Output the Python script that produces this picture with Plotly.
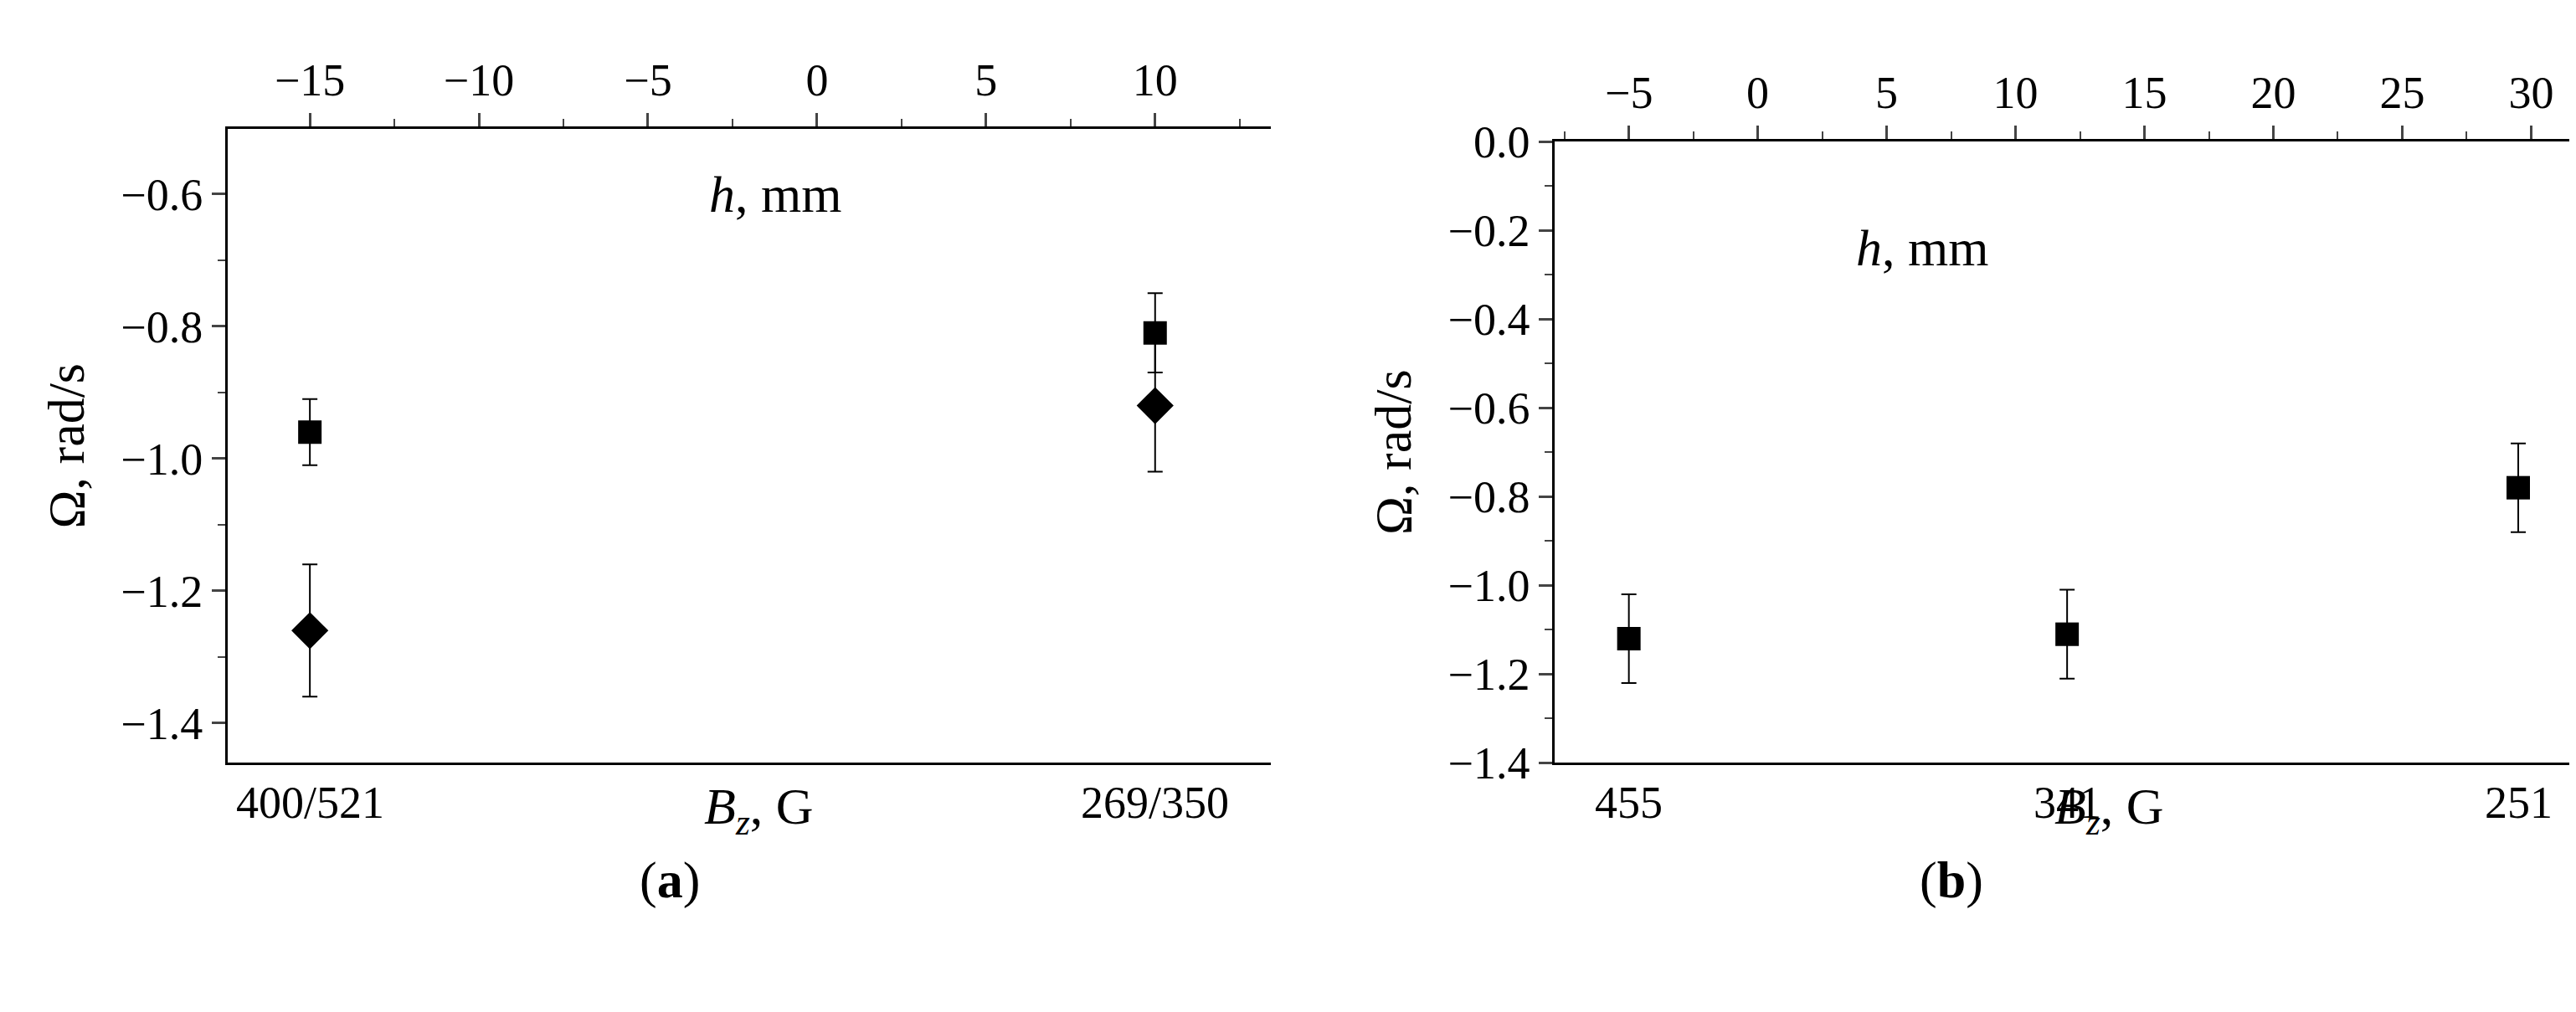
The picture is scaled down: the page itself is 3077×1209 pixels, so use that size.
import plotly.graph_objects as go

# panel (a)
h_a = [-15, 10]
sq_a = [-0.96, -0.81]
sq_a_err = [0.05, 0.06]
dm_a = [-1.26, -0.92]
dm_a_err = [0.10, 0.10]
bz_a = ["400/521", "269/350"]

# panel (b)
h_b = [-5, 12, 29.5]
sq_b = [-1.12, -1.11, -0.78]
sq_b_err = [0.10, 0.10, 0.10]
bz_b = ["455", "341", "251"]

FONT = "Liberation Serif"
fig = go.Figure()

def err(e):
    return dict(type="data", array=e, color="black", thickness=2, width=9)

fig.add_trace(go.Scatter(x=h_a, y=sq_a, mode="markers", error_y=err(sq_a_err),
                         marker=dict(symbol="square", size=28, color="black"), xaxis="x", yaxis="y"))
fig.add_trace(go.Scatter(x=h_a, y=dm_a, mode="markers", error_y=err(dm_a_err),
                         marker=dict(symbol="diamond", size=34, color="black"), xaxis="x", yaxis="y"))
fig.add_trace(go.Scatter(x=h_b, y=sq_b, mode="markers", error_y=err(sq_b_err),
                         marker=dict(symbol="square", size=28, color="black"), xaxis="x2", yaxis="y2"))

tick = dict(family=FONT, size=54, color="black")
big = dict(family=FONT, size=62, color="black")
xcommon = dict(side="top", showline=True, linecolor="black", linewidth=3, mirror=True,
               ticks="outside", ticklen=16, tickwidth=3, showgrid=False, zeroline=False,
               tickfont=tick, minor=dict(ticks="outside", ticklen=9, dtick=2.5, tickwidth=2))
ycommon = dict(showline=True, linecolor="black", linewidth=3, ticks="outside", ticklen=16,
               tickwidth=3, showgrid=False, zeroline=False, tickfont=tick,
               minor=dict(ticks="outside", ticklen=9, dtick=0.1, tickwidth=2),
               title=dict(text="Ω, rad/s", font=big, standoff=24))

fig.update_layout(
    width=3077, height=1209, margin=dict(l=0, r=0, t=0, b=0),
    font=dict(family=FONT, color="black"),
    paper_bgcolor="white", plot_bgcolor="white", showlegend=False,
    xaxis=dict(xcommon, domain=[0.0858, 0.4907], range=[-17.43, 13.42], anchor="y",
               tickvals=[-15, -10, -5, 0, 5, 10], ticktext=["−15", "−10", "−5", "0", "5", "10"]),
    yaxis=dict(ycommon, domain=[0.239, 0.898], range=[-1.46, -0.502], anchor="x",
               tickvals=[-1.4, -1.2, -1.0, -0.8, -0.6],
               ticktext=["−1.4", "−1.2", "−1.0", "−0.8", "−0.6"]),
    xaxis2=dict(xcommon, domain=[0.601, 0.997], range=[-7.87, 31.7], anchor="y2",
                tickvals=[-5, 0, 5, 10, 15, 20, 25, 30],
                ticktext=["−5", "0", "5", "10", "15", "20", "25", "30"]),
    yaxis2=dict(ycommon, domain=[0.239, 0.885], range=[-1.4, 0.0], anchor="x2",
                tickvals=[-1.4, -1.2, -1.0, -0.8, -0.6, -0.4, -0.2, 0.0],
                ticktext=["−1.4", "−1.2", "−1.0", "−0.8", "−0.6", "−0.4", "−0.2", "0.0"]),
)

ann = []
for xs, labs, xr in [(h_a, bz_a, "x"), (h_b, bz_b, "x2")]:
    for xv, lab in zip(xs, labs):
        ann.append(dict(x=xv, y=0.225, xref=xr, yref="paper", text=lab, showarrow=False,
                        yanchor="top", font=tick))
ann += [
    dict(x=0.27, y=0.225, xref="paper", yref="paper", text="<i>B<sub>z</sub></i>, G", showarrow=False,
         yanchor="top", font=big),
    dict(x=0.838, y=0.225, xref="paper", yref="paper", text="<i>B<sub>z</sub></i>, G", showarrow=False,
         yanchor="top", font=big),
    dict(x=0.272, y=0.83, xref="paper", yref="paper", text="<i>h</i>, mm", showarrow=False,
         yanchor="middle", font=big),
    dict(x=0.77, y=0.775, xref="paper", yref="paper", text="<i>h</i>, mm", showarrow=False,
         yanchor="middle", font=big),
    dict(x=0.245, y=0.085, xref="paper", yref="paper", text="(<b>a</b>)", showarrow=False,
         font=big),
    dict(x=0.768, y=0.085, xref="paper", yref="paper", text="(<b>b</b>)", showarrow=False,
         font=big),
]
fig.update_layout(annotations=ann)
fig.write_html("out.html")
